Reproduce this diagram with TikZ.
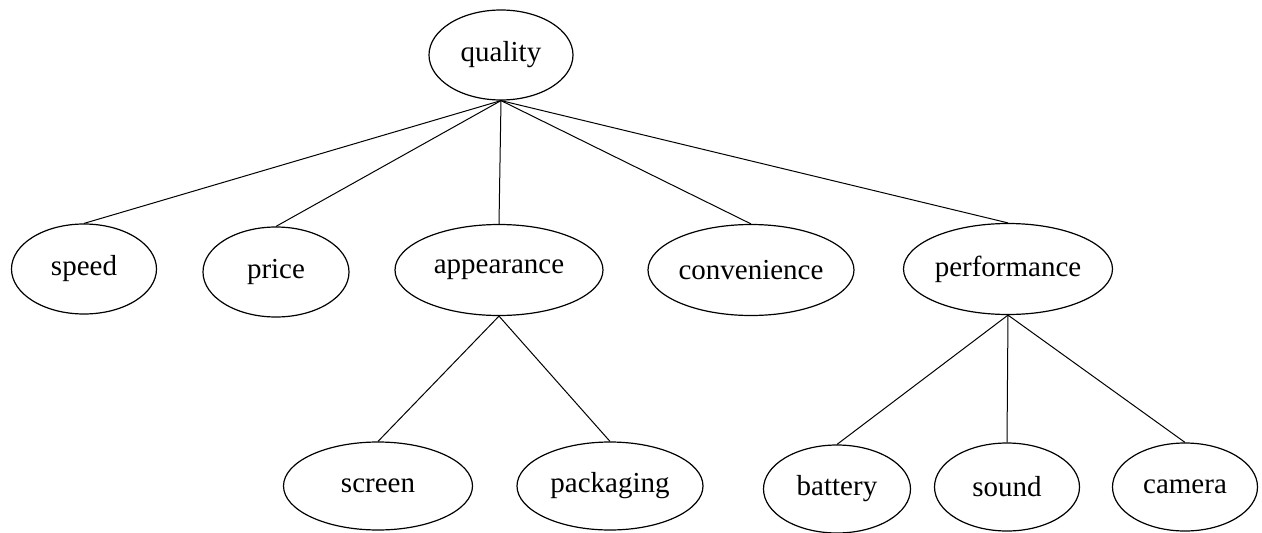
\documentclass[tikz,border=0pt]{standalone}
\usepackage{fontspec}
\setmainfont{Liberation Serif}
\usetikzlibrary{shapes.geometric}
\begin{document}
\begin{tikzpicture}[x=1pt,y=-1pt,
  cat/.style={draw,ellipse,line width=1.2pt,inner sep=0pt,font=\fontsize{29}{34}\selectfont},
  link/.style={line width=1pt}]
\useasboundingbox (0,0) rectangle (1262,533);
\node[cat,minimum width=144,minimum height=90] (quality) at (501,55) {quality};
\node[cat,minimum width=145,minimum height=90] (speed) at (84,269) {speed};
\node[cat,minimum width=146,minimum height=90] (price) at (276,272) {price};
\node[cat,minimum width=208,minimum height=91] (appearance) at (499,270) {appearance};
\node[cat,minimum width=206,minimum height=91] (convenience) at (751,270) {convenience};
\node[cat,minimum width=209,minimum height=91] (performance) at (1008,269) {performance};
\node[cat,minimum width=189,minimum height=88] (screen) at (378,486) {screen};
\node[cat,minimum width=186,minimum height=88] (packaging) at (610,486) {packaging};
\node[cat,minimum width=147,minimum height=88] (battery) at (837,489) {battery};
\node[cat,minimum width=145,minimum height=88] (sound) at (1007,487) {sound};
\node[cat,minimum width=145,minimum height=88] (camera) at (1185,487) {camera};
\foreach \c in {speed,price,appearance,convenience,performance}
  \draw[link] (quality.south) -- (\c.north);
\foreach \c in {screen,packaging}
  \draw[link] (appearance.south) -- (\c.north);
\foreach \c in {battery,sound,camera}
  \draw[link] (performance.south) -- (\c.north);
\end{tikzpicture}
\end{document}
